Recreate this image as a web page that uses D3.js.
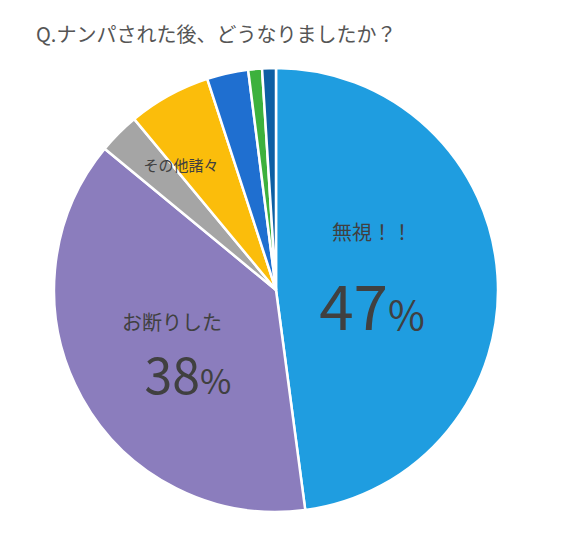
<!DOCTYPE html><html><head><meta charset="utf-8"><script src="https://cdn.jsdelivr.net/npm/d3@7"></script>
<style>body{margin:0;background:#fff}</style></head><body><svg id="c" width="562" height="554"></svg><script>
const categories=["無視！！","お断りした","other1","その他諸々","other2","other3","other4"];
const values=[47.8,38,3,6,3,1,1];
const colors=["#1f9de0","#8b7dbd","#a5a5a5","#fbbd0b","#1f6fd0","#3db13d","#0d5fa3"];
const svg=d3.select("#c");
svg.append("text").attr("x",36).attr("y",42).attr("font-family","Noto Sans CJK JP").attr("font-size",20).attr("fill","#555").text("Q.ナンパされた後、どうなりましたか？");
const g=svg.append("g").attr("transform","translate(276,290)");
const pie=d3.pie().sort(null).value(d=>d);
const arc=d3.arc().innerRadius(0).outerRadius(222);
g.selectAll("path").data(pie(values)).join("path").attr("d",arc).attr("fill",(d,i)=>colors[i]).attr("stroke","#fff").attr("stroke-width",2.5);
const f="Noto Sans CJK JP";
function t(x,y,s,txt,fill){svg.append("text").attr("x",x).attr("y",y).attr("font-family",f).attr("font-size",s).attr("fill",fill||"#404040").attr("text-anchor","middle").text(txt);}
t(372,240,20,"無視！！");
svg.append("text").attr("x",372).attr("y",330).attr("font-family",f).attr("text-anchor","middle").attr("fill","#404040").html('<tspan font-size="62">47</tspan><tspan font-size="40">%</tspan>');
t(172,330,20,"お断りした");
svg.append("text").attr("x",188).attr("y",394).attr("font-family",f).attr("text-anchor","middle").attr("fill","#404040").html('<tspan font-size="50">38</tspan><tspan font-size="34">%</tspan>');
t(181,171,15,"その他諸々");
</script></body></html>
